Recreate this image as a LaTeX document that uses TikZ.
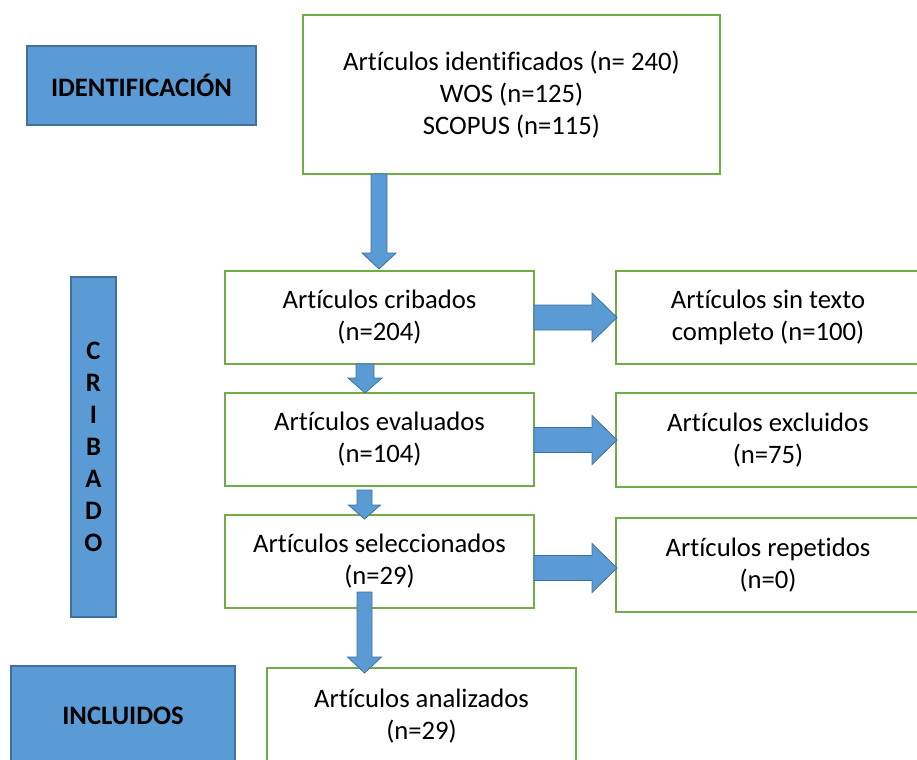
\documentclass[tikz,border=0pt]{standalone}
\usepackage{fontspec}
\setmainfont[Ligatures=NoCommon]{Carlito}
\definecolor{gbord}{HTML}{70AD47}
\definecolor{bfill}{HTML}{5B9BD5}
\definecolor{bbord}{HTML}{41719C}
\tikzset{
  gbox/.style={draw=gbord, line width=1.1pt, fill=white, align=center, inner sep=0pt, font=\fontsize{20}{24}\selectfont},
  bbox/.style={draw=bbord, line width=0.8pt, fill=bfill, align=center, inner sep=0pt, font=\bfseries\fontsize{20}{24}\selectfont},
  arr/.style={fill=bfill, draw=bbord, line width=0.6pt, line join=miter}
}
% down arrow: cx, ytop, yhead, ytip, shaft half, head half
\newcommand\ArrD[6]{\path[arr] (#1-#5,#2) -- (#1+#5,#2) -- (#1+#5,#3) -- (#1+#6,#3) -- (#1,#4) -- (#1-#6,#3) -- (#1-#5,#3) -- cycle;}
% right arrow: cy, xleft, xhead, xtip, shaft half, head half
\newcommand\ArrR[6]{\path[arr] (#2,#1-#5) -- (#3,#1-#5) -- (#3,#1-#6) -- (#4,#1) -- (#3,#1+#6) -- (#3,#1+#5) -- (#2,#1+#5) -- cycle;}
\begin{document}
\begin{tikzpicture}[x=0.75pt,y=-0.75pt]
\useasboundingbox (0,0) rectangle (917,760);
\clip (0,0) rectangle (917,760);
\fill[white] (0,0) rectangle (917,760);
% blue stage boxes
\node[bbox, minimum width=171.75pt, minimum height=59.25pt] (ident) at (141.5,85.5) {IDENTIFICACIÓN};
\node[bbox, minimum width=33.75pt, minimum height=255pt] (crib) at (93.5,447) {C\\R\\I\\B\\A\\D\\O};
\node[bbox, minimum width=168pt, minimum height=75pt] (incl) at (123,716) {INCLUIDOS};
% green boxes
\node[gbox, minimum width=312.75pt, minimum height=119.25pt] (top) at (511.5,94.5) {Artículos identificados (n= 240)\\WOS (n=125)\\SCOPUS (n=115)};
\node[gbox, minimum width=231.75pt, minimum height=69.75pt] (cribados) at (379.5,317.5) {Artículos cribados\\(n=204)};
\node[gbox, minimum width=231.75pt, minimum height=69.75pt] (evaluados) at (379.5,439.5) {Artículos evaluados\\(n=104)};
\node[gbox, minimum width=231.75pt, minimum height=69.75pt] (selecc) at (379.5,561.5) {Artículos seleccionados\\(n=29)};
\node[gbox, minimum width=228pt, minimum height=69.75pt] (sintexto) at (768,317.5) {Artículos sin texto\\completo (n=100)};
\node[gbox, minimum width=228pt, minimum height=70.5pt] (excl) at (768,440) {Artículos excluidos\\(n=75)};
\node[gbox, minimum width=228pt, minimum height=70.5pt] (repet) at (768,565) {Artículos repetidos\\(n=0)};
\node[gbox, minimum width=231.75pt, minimum height=72.75pt] (anal) at (421.5,716.5) {Artículos analizados\\(n=29)};
% block arrows (top -> cribados, etc.)
\ArrD{379}{174}{253}{269}{8}{17}
\ArrD{365}{364}{378}{393}{9}{17}
\ArrD{364.5}{490}{505}{519}{7.5}{16}
\ArrD{364.5}{592}{657}{673}{7.5}{17}
\ArrR{317.5}{534}{592}{617}{12.5}{24.5}
\ArrR{440}{534}{592}{617}{12.5}{24.5}
\ArrR{568}{534}{592}{617}{12.5}{24.5}
\end{tikzpicture}
\end{document}
